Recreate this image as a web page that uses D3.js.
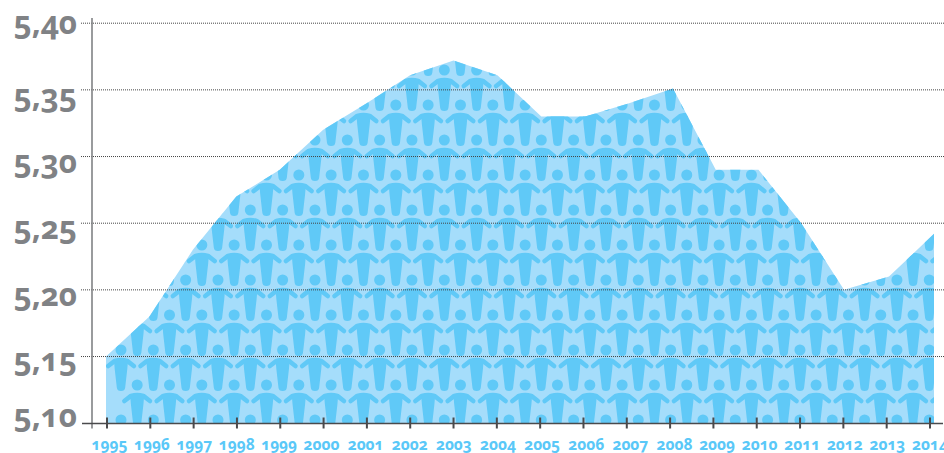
<!DOCTYPE html>
<html>
<head>
<meta charset="utf-8">
<script src="https://cdn.jsdelivr.net/npm/d3@7"></script>
<style>
html,body{margin:0;padding:0;background:#fff;overflow:hidden}
svg{display:block}
text{font-family:"Open Sans",sans-serif;font-weight:700;font-feature-settings:"onum" 1;font-variant-numeric:oldstyle-nums}
</style>
</head>
<body>
<svg id="chart" width="944" height="453"></svg>
<script>
const years = [1995,1996,1997,1998,1999,2000,2001,2002,2003,2004,2005,2006,2007,2008,2009,2010,2011,2012,2013,2014];
const values = [5.15,5.18,5.23,5.27,5.29,5.32,5.34,5.361,5.372,5.361,5.33,5.33,5.34,5.351,5.29,5.29,5.25,5.20,5.21,5.242];
const yTicks = [5.10,5.15,5.20,5.25,5.30,5.35,5.40];
// Baseline drop of each value label below its gridline, same order as yTicks
const yLabelDrop = [4,14,16,16,16,17,10.8];

const svg = d3.select("#chart");
const y = d3.scaleLinear().domain([5.10,5.40]).range([423.2,23.2]);
const xArea = d3.scaleLinear().domain([1995,2003,2008,2012,2014]).range([106,453.5,673,844,934]);
const xTick = d3.scaleLinear().domain([1995,2014]).range([107,930]);
const xLabel = d3.scaleLinear().domain([1995,2000,2008,2014]).range([109.5,321.5,674.5,930]);
const comma = v => v.toFixed(2).replace(".",",");
const figureBlue = "#60c9f7";

const area = d3.area().x((d,i)=>xArea(years[i])).y0(y(5.10)).y1(d=>y(d));

// Pale fill under the curve
svg.append("path").datum(values).attr("d",area).attr("fill","#a5ddfb");

// Clip region and the figure used to tile the area
const defs = svg.append("defs");
defs.append("clipPath").attr("id","under").append("path").datum(values).attr("d",area);
const fig = defs.append("g").attr("id","person");
fig.append("circle").attr("r",5.5).attr("fill",figureBlue);
fig.append("path")
  .attr("d","M-12.8,16 L-6.2,10.9 Q0,9.2 6.2,10.9 L12.8,16")
  .attr("fill","none").attr("stroke",figureBlue).attr("stroke-width",4.6)
  .attr("stroke-linecap","round").attr("stroke-linejoin","round");
fig.append("path")
  .attr("d","M-7,10.5 L7,10.5 L6.3,19 L4.2,37.5 Q3.9,41 0,41 Q-3.9,41 -4.2,37.5 L-6.3,19 Z")
  .attr("fill",figureBlue);

// Staggered rows of figures
const rowStep = 35, colStep = 32.33;
const people = svg.append("g").attr("clip-path","url(#under)");
d3.range(-10,13).forEach(r=>{
  const cy = 350 + r*rowStep;
  const shift = (r%2!==0) ? 16.17 : 0;
  d3.range(0,28).forEach(c=>{
    people.append("use").attr("href","#person")
      .attr("x",121+shift+c*colStep).attr("y",cy);
  });
});

// Dotted gridlines over the area
svg.append("g").selectAll("line").data(yTicks.slice(1)).join("line")
  .attr("x1",81).attr("x2",944)
  .attr("y1",d=>y(d)).attr("y2",d=>y(d))
  .attr("stroke","#444").attr("stroke-width",1).attr("stroke-dasharray","1 1");

// Axes
svg.append("line").attr("x1",92).attr("x2",92).attr("y1",18).attr("y2",428.5)
  .attr("stroke","#808285").attr("stroke-width",1.6);
svg.append("line").attr("x1",82).attr("x2",943).attr("y1",423.5).attr("y2",423.5)
  .attr("stroke","#4a4a4c").attr("stroke-width",1.4);
svg.append("g").selectAll("line").data(years).join("line")
  .attr("x1",d=>xTick(d)).attr("x2",d=>xTick(d)).attr("y1",417.5).attr("y2",428.5)
  .attr("stroke","#4a4a4c").attr("stroke-width",2);

// Axis labels
svg.append("g").selectAll("text").data(yTicks).join("text")
  .attr("x",77).attr("y",(d,i)=>y(d)+yLabelDrop[i]).attr("text-anchor","end")
  .attr("font-size",31.5).attr("fill","#808285").text(comma);
svg.append("g").selectAll("text").data(years).join("text")
  .attr("x",d=>xLabel(d)).attr("y",449.5).attr("text-anchor","middle")
  .attr("font-size",15.5).attr("fill","#5ac8f8").text(d=>d);
</script>
</body>
</html>
